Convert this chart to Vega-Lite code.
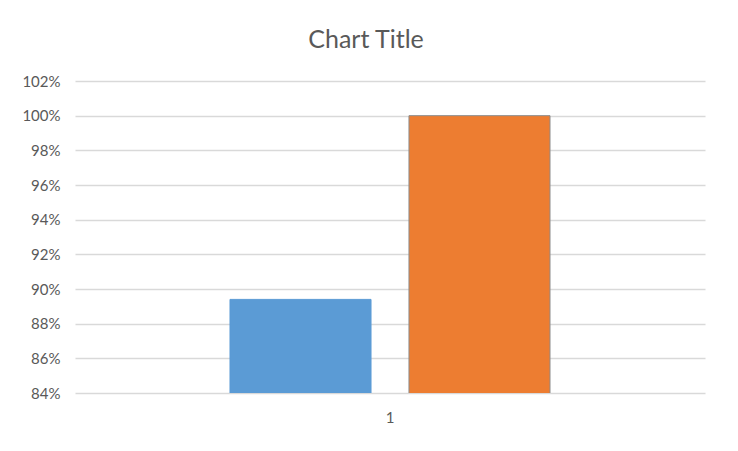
{
  "$schema": "https://vega.github.io/schema/vega-lite/v6.json",
  "width": 630,
  "height": 312,
  "autosize": {"type": "none"},
  "padding": {"left": 75, "top": 81, "right": 33, "bottom": 58},
  "background": "white",
  "title": {
    "text": "Chart Title",
    "font": "Lato",
    "fontSize": 25,
    "fontWeight": "normal",
    "color": "#595959",
    "offset": 21,
    "dx": -24
  },
  "data": {
    "values": [
      {"category": "1", "series": "Series1", "value": 0.894},
      {"category": "1", "series": "Series2", "value": 1.0}
    ]
  },
  "mark": {"type": "bar", "clip": true},
  "encoding": {
    "x": {
      "field": "category",
      "type": "nominal",
      "scale": {"paddingInner": 0, "paddingOuter": 0},
      "axis": {
        "title": null,
        "labelAngle": 0,
        "ticks": false,
        "domain": false,
        "labelPadding": 17,
        "labelFont": "Lato",
        "labelFontSize": 15,
        "labelColor": "#595959"
      }
    },
    "xOffset": {
      "field": "series",
      "type": "nominal",
      "scale": {"paddingInner": 0.212, "paddingOuter": 0.866}
    },
    "y": {
      "field": "value",
      "type": "quantitative",
      "scale": {"domain": [0.84, 1.02], "zero": false, "nice": false},
      "axis": {
        "title": null,
        "format": ".0%",
        "values": [0.84, 0.86, 0.88, 0.9, 0.92, 0.94, 0.96, 0.98, 1.0, 1.02],
        "ticks": false,
        "domain": false,
        "labelPadding": 15,
        "labelFont": "Lato",
        "labelFontSize": 15,
        "labelColor": "#595959",
        "gridColor": "#d9d9d9",
        "gridWidth": 1.5
      }
    },
    "color": {
      "field": "series",
      "type": "nominal",
      "scale": {"domain": ["Series1", "Series2"], "range": ["#5b9bd5", "#ed7d31"]},
      "legend": null
    },
    "stroke": {
      "field": "series",
      "type": "nominal",
      "scale": {"domain": ["Series1", "Series2"], "range": ["#5b9bd5", "#8c8c8c"]},
      "legend": null
    }
  },
  "config": {"view": {"stroke": null}}
}
